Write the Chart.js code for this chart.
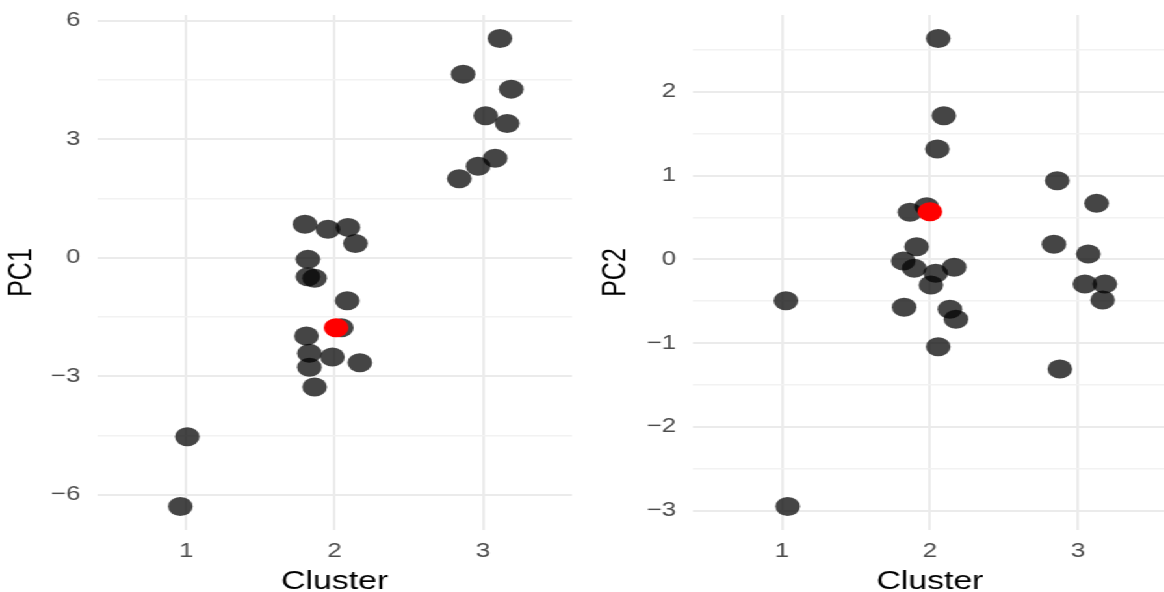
<!DOCTYPE html>
<html>
<head>
<meta charset="utf-8">
<script src="https://cdn.jsdelivr.net/npm/chart.js@4"></script>
<style>
    html, body { margin: 0; padding: 0; background: #ffffff; overflow: hidden; }
    #wrap { position: absolute; left: 0; top: 0; width: 898px; height: 595px; transform: scaleX(1.3); transform-origin: 0 0; }
    canvas { position: absolute; top: 0; }
</style>
</head>
<body>
<div id="wrap">
    <canvas id="pc1Chart" width="446" height="595" style="left:0; width:446px; height:595px;"></canvas>
    <canvas id="pc2Chart" width="452" height="595" style="left:446px; width:452px; height:595px;"></canvas>
</div>
<script>
const xTicks = [1, 2, 3];
const pc1Ticks = [-6, -3, 0, 3, 6];
const pc2Ticks = [-3, -2, -1, 0, 1, 2];

// left panel: jittered cluster position and PC1
const pc1Cluster = [1.007, 0.96,
    1.80, 1.955, 2.09, 2.14, 1.82, 1.82, 1.865, 2.085, 2.045, 1.81, 1.83, 1.985, 2.17, 1.83, 1.865,
    3.114, 2.866, 3.19, 3.018, 3.163, 3.082, 2.967, 2.84];
const pc1Values = [-4.53, -6.30,
    0.85, 0.72, 0.77, 0.36, -0.04, -0.48, -0.52, -1.09, -1.77, -1.98, -2.42, -2.51, -2.66, -2.77, -3.27,
    5.555, 4.65, 4.27, 3.595, 3.40, 2.52, 2.32, 2.00];
const pc1NewCluster = [2.01];
const pc1NewValue = [-1.77];

// right panel: jittered cluster position and PC2
const pc2Cluster = [1.027, 1.039,
    2.056, 2.094, 2.05, 1.865, 1.978, 1.91, 1.82, 1.894, 2.039, 2.164, 2.007, 1.826, 2.135, 2.176, 2.056,
    2.86, 3.126, 2.838, 3.07, 3.047, 3.182, 3.167, 2.878];
const pc2Values = [-0.494, -2.952,
    2.637, 1.714, 1.316, 0.561, 0.628, 0.15, -0.02, -0.107, -0.167, -0.095, -0.307, -0.573, -0.597, -0.716, -1.043,
    0.938, 0.668, 0.179, 0.063, -0.295, -0.295, -0.486, -1.309];
const pc2NewCluster = [2.0];
const pc2NewValue = [0.568];

function toPoints(xs, ys) {
    return xs.map((x, i) => ({ x: x, y: ys[i] }));
}

function withMinor(major, min, max) {
    const step = major[1] - major[0];
    var list = [];
    var first = major[0] - step / 2;
    if (first >= min) list.push({ value: first, major: false });
    major.forEach(v => {
        list.push({ value: v, major: true });
        if (v + step / 2 <= max) list.push({ value: v + step / 2, major: false });
    });
    return list;
}

function fmt(v) {
    return v < 0 ? '\u2212' + Math.abs(v) : String(v);
}

function drawPanel(id, xs, ys, nx, ny, yMajor, title, axisWidth, titlePad, padRight) {
    const lo = Math.min(...ys, ...ny), hi = Math.max(...ys, ...ny);
    const yMin = lo - (hi - lo) * 0.05;
    const yMax = hi + (hi - lo) * 0.05;

    const ctx = document.getElementById(id).getContext('2d');
    return new Chart(ctx, {
        type: 'scatter',
        data: {
            datasets: [{
                label: 'new',
                data: toPoints(nx, ny),
                backgroundColor: 'rgb(255,0,0)',
                pointRadius: 9.5,
                pointBorderWidth: 0,
                order: 0
            }, {
                label: 'obs',
                data: toPoints(xs, ys),
                backgroundColor: 'rgba(0,0,0,0.73)',
                pointRadius: 9.5,
                pointBorderWidth: 0,
                order: 1
            }]
        },
        options: {
            responsive: false,
            animation: false,
            layout: { autoPadding: false, padding: { top: 15, right: padRight, left: 0, bottom: 0 } },
            plugins: { legend: { display: false }, tooltip: { enabled: false } },
            scales: {
                x: {
                    type: 'linear',
                    min: 0.4,
                    max: 3.6,
                    afterBuildTicks: s => { s.ticks = xTicks.map(v => ({ value: v })); },
                    afterFit: s => { s.height = 65; s.paddingLeft = 0; s.paddingRight = 0; },
                    border: { display: false },
                    grid: { color: '#ebebeb', lineWidth: 2, drawTicks: false },
                    ticks: {
                        padding: 9,
                        color: '#4d4d4d',
                        font: { family: 'Liberation Sans', size: 20 },
                        callback: v => fmt(v)
                    },
                    title: {
                        display: true,
                        text: 'Cluster',
                        color: '#000000',
                        padding: 0,
                        font: { family: 'Liberation Sans', size: 26, lineHeight: 1 }
                    }
                },
                y: {
                    type: 'linear',
                    min: yMin,
                    max: yMax,
                    afterBuildTicks: s => { s.ticks = withMinor(yMajor, yMin, yMax); },
                    afterFit: s => { s.width = axisWidth; s.paddingTop = 0; s.paddingBottom = 0; },
                    border: { display: false },
                    grid: {
                        drawTicks: false,
                        color: c => (c.tick && c.tick.major) ? '#ebebeb' : '#f2f2f2',
                        lineWidth: c => (c.tick && c.tick.major) ? 2 : 1.5
                    },
                    ticks: {
                        padding: 13,
                        color: '#4d4d4d',
                        font: { family: 'Liberation Sans', size: 20 },
                        callback: function (v, i, ticks) { return ticks[i].major ? fmt(v) : ''; }
                    },
                    title: {
                        display: true,
                        text: title,
                        color: '#000000',
                        padding: { top: titlePad, bottom: 0 },
                        font: { family: 'Liberation Sans', size: 25, lineHeight: 1 }
                    }
                }
            }
        }
    });
}

drawPanel('pc1Chart', pc1Cluster, pc1Values, pc1NewCluster, pc1NewValue, pc1Ticks, 'PC1', 74.8, 5, 6);
drawPanel('pc2Chart', pc2Cluster, pc2Values, pc2NewCluster, pc2NewValue, pc2Ticks, 'PC2', 87.2, 16, 0.5);
</script>
</body>
</html>
